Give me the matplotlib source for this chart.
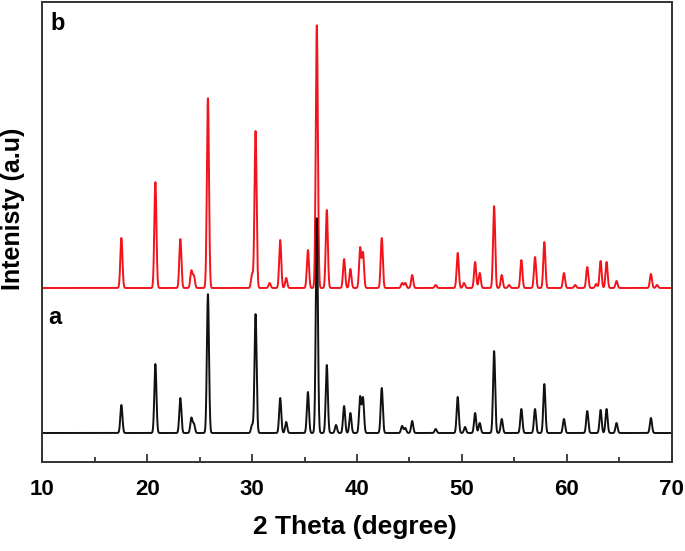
import numpy as np
import matplotlib
matplotlib.use("Agg")
import matplotlib.pyplot as plt
from matplotlib.ticker import MultipleLocator

plt.rcParams['font.family'] = ['Liberation Sans', 'DejaVu Sans']

# --- data (2theta in degrees, peak height in arbitrary units) ---
peaks_a_pos = [17.54, 20.78, 23.16, 24.21, 24.45, 25.79, 30.0, 30.33, 32.68, 33.25,
               35.32, 36.17, 37.12, 38.0, 38.77, 39.37, 40.3, 40.57, 42.36, 44.3,
               44.6, 45.26, 47.5, 49.6, 50.3, 51.26, 51.7, 53.07, 53.8, 55.67,
               56.97, 57.86, 59.73, 61.95, 63.22, 63.79, 64.74, 68.02]
peaks_a_int = [28, 69, 35, 15, 9, 139, 8, 119, 35, 11,
               41, 215, 68, 8, 27, 20, 36, 35, 45, 7,
               5, 12, 4, 36, 6, 20, 10, 82, 14, 24,
               24, 49, 14, 22, 23, 24, 10, 15]

peaks_b_pos = [17.54, 20.78, 23.16, 24.21, 24.45, 25.79, 30.0, 30.33, 31.67, 32.68,
               33.25, 35.32, 36.17, 37.12, 38.77, 39.37, 40.3, 40.57, 42.36, 44.3,
               44.6, 45.26, 47.5, 49.6, 50.2, 51.26, 51.7, 53.07, 53.8, 54.5,
               55.67, 56.97, 57.86, 59.73, 60.8, 61.95, 62.8, 63.22, 63.79, 64.74,
               68.02, 68.6]
peaks_b_int = [50, 106, 49, 17, 12, 190, 14, 157, 5, 48,
               10, 38, 263, 78, 29, 19, 40, 35, 50, 5,
               5, 13, 3, 35, 5, 26, 15, 82, 13, 3,
               28, 31, 46, 15, 3, 21, 4, 27, 26, 7,
               14, 3]

baseline_a = 29
baseline_b = 174
peak_sigma = 0.10

x_ticks = [10, 20, 30, 40, 50, 60, 70]


def profile(x, pos, inten, base):
    y = np.full_like(x, float(base))
    for p, h in zip(pos, inten):
        y += h * np.exp(-0.5 * ((x - p) / peak_sigma) ** 2)
    return y


x = np.linspace(10, 70, 4001)
ya = profile(x, peaks_a_pos, peaks_a_int, baseline_a)
yb = profile(x, peaks_b_pos, peaks_b_int, baseline_b)

fig = plt.figure(figsize=(6.85, 5.51), dpi=100)
ax = fig.add_axes([42.3 / 685, 89 / 551, 629.4 / 685, 460 / 551])

ax.plot(x, yb, color='#f2141a', lw=1.4)
ax.plot(x, ya, color='#111111', lw=1.4)

ax.set_xlim(10, 70)
ax.set_ylim(0, 460)
ax.set_xticks(x_ticks)
ax.xaxis.set_minor_locator(MultipleLocator(5))
ax.set_yticks([])
ax.tick_params(axis='x', which='major', direction='in', length=6, width=1.2,
               labelsize=16, pad=12, colors='#222222')
ax.tick_params(axis='x', which='minor', direction='in', length=3.5, width=1.2,
               colors='#222222')
for lbl in ax.get_xticklabels():
    lbl.set_fontweight('bold')
    lbl.set_color('black')
for s in ax.spines.values():
    s.set_linewidth(1.4)
    s.set_color('#333333')

ax.text(11.5, 438, 'b', fontsize=17, fontweight='bold', ha='center', va='center')
ax.text(11.2, 144, 'a', fontsize=17, fontweight='bold', ha='center', va='center')

fig.text(355 / 685, 1 - 527 / 551, '2 Theta (degree)', fontsize=19, fontweight='bold',
         ha='center', va='center')
fig.text(13 / 685, 1 - 209 / 551, 'Intenisty (a.u)', fontsize=18, fontweight='bold',
         ha='center', va='center', rotation=90)

fig.savefig('out.png', dpi=100)
